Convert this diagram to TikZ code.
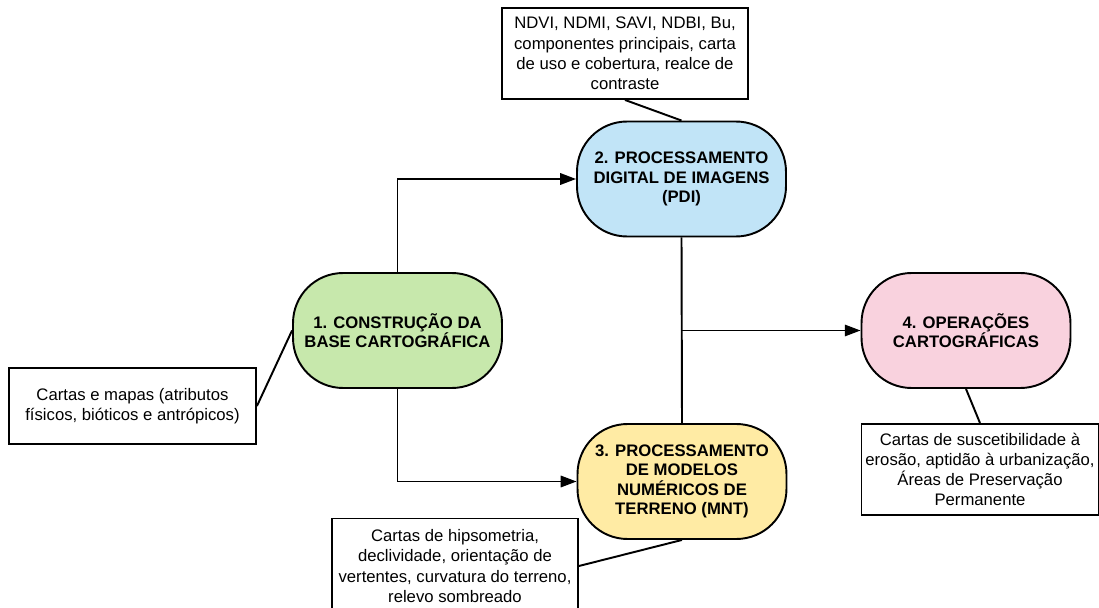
\documentclass[tikz,border=0pt]{standalone}
\usepackage{fontspec}
\setmainfont{Liberation Sans}
\usetikzlibrary{arrows.meta,calc,positioning}
\definecolor{verde}{HTML}{C7E8AC}
\definecolor{azul}{HTML}{C1E4F7}
\definecolor{amarelo}{HTML}{FFEBA4}
\definecolor{rosa}{HTML}{F9D2DE}
\tikzset{
    >={Triangle[length=9pt,width=6.5pt]},
    etapa/.style={
           draw=black, line width=1.1pt,
           rounded corners=1cm,
           minimum width=4.18cm,
           minimum height=2.3cm,
           inner sep=2pt,
           align=center,
           font=\fontsize{9.5}{11}\selectfont\bfseries},
    nota/.style={
           draw=black, line width=1.1pt,
           fill=white,
           inner sep=2pt,
           align=center,
           font=\fontsize{9.5}{11.5}\selectfont},
    pil/.style={
           ->,
           line width=1.1pt},
    lin/.style={
           line width=1.1pt}
}

\begin{document}
\begin{tikzpicture}[x=0.02cm, y=-0.02cm]
        \useasboundingbox (0,0) rectangle (1099,608);
        % etapas
        \node[etapa, fill=verde] (base) at (397.5,330.5) {1. CONSTRUÇÃO DA\\BASE CARTOGRÁFICA};
        \node[etapa, fill=azul] (pdi) at (681.5,179) {2. PROCESSAMENTO\\DIGITAL DE IMAGENS\\(PDI)};
        \node[etapa, fill=amarelo] (mnt) at (682,481.5) {3. PROCESSAMENTO\\DE MODELOS\\NUMÉRICOS DE\\TERRENO (MNT)};
        \node[etapa, fill=rosa] (oper) at (966,330.5) {4. OPERAÇÕES\\CARTOGRÁFICAS};
        % notas
        \node[nota, minimum width=4.92cm, minimum height=1.82cm] (npdi) at (625,53.5) {NDVI, NDMI, SAVI, NDBI, Bu,\\componentes principais, carta\\de uso e cobertura, realce de\\contraste};
        \node[nota, minimum width=4.94cm, minimum height=1.52cm] (nbase) at (132.5,406) {Cartas e mapas (atributos\\físicos, bióticos e antrópicos)};
        \node[nota, minimum width=4.92cm, minimum height=1.9cm] (nmnt) at (455,566) {Cartas de hipsometria,\\declividade, orientação de\\vertentes, curvatura do terreno,\\relevo sombreado};
        \node[nota, minimum width=4.74cm, minimum height=1.82cm] (noper) at (980,469.5) {Cartas de suscetibilidade à\\erosão, aptidão à urbanização,\\Áreas de Preservação\\Permanente};

        \draw[pil] (base.north) |- (pdi.west);
        \draw[pil] (base.south) |- (mnt.west);
        \draw[lin] (pdi.south) -- (mnt.north);
        \draw[pil] (pdi.south |- oper.west) -- (oper.west);

        \draw[lin] (npdi.south) -- (pdi.north);
        \draw[lin] (nbase.east) -- (base.west);
        \draw[lin] (nmnt.east) -- (mnt.south);
        \draw[lin] (noper.north) -- (oper.south);
    \end{tikzpicture}
\end{document}
